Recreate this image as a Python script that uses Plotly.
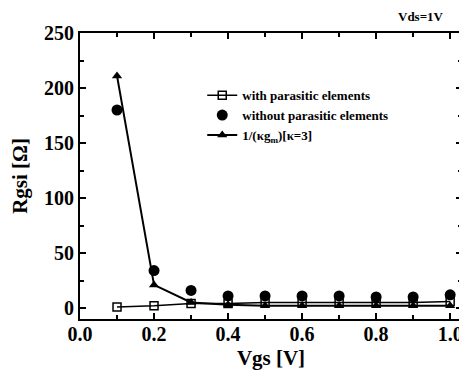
import plotly.graph_objects as go

vgs = [0.1, 0.2, 0.3, 0.4, 0.5, 0.6, 0.7, 0.8, 0.9, 1.0]
with_parasitic = [1, 2, 4, 4, 5, 5, 5, 5, 5, 6]
without_parasitic = [180, 34, 16, 11, 11, 11, 11, 10, 10, 12]
inv_kgm = [211, 21, 5, 3, 2, 2, 2, 2, 2, 2]

x_tick_vals = [0.0, 0.2, 0.4, 0.6, 0.8, 1.0]
x_tick_text = ["0.0", "0.2", "0.4", "0.6", "0.8", "1.0"]
y_tick_vals = [0, 50, 100, 150, 200, 250]
y_tick_text = ["0", "50", "100", "150", "200", "250"]

FONT = "Times New Roman, Liberation Serif, serif"

fig = go.Figure()
fig.add_trace(go.Scatter(
    x=vgs, y=with_parasitic, mode="lines+markers",
    name="<b>with parasitic elements</b>",
    line=dict(color="black", width=1.5),
    marker=dict(symbol="square-open", size=8, color="black", line=dict(width=1.5)),
))
fig.add_trace(go.Scatter(
    x=vgs, y=without_parasitic, mode="markers",
    name="<b>without parasitic elements</b>",
    marker=dict(symbol="circle", size=11, color="black"),
))
fig.add_trace(go.Scatter(
    x=vgs, y=inv_kgm, mode="lines+markers",
    name="<b>1/(κg<sub>m</sub>)[κ=3]</b>",
    line=dict(color="black", width=2),
    marker=dict(symbol="triangle-up", size=9, color="black"),
))

axis_common = dict(
    showline=True, linecolor="black", linewidth=2, mirror="ticks",
    ticks="inside", ticklen=6, tickwidth=2, tickcolor="black",
    showgrid=False, zeroline=False,
    tickfont=dict(family=FONT, size=20, color="black"),
)

fig.update_xaxes(
    range=[0, 1.032], tickvals=x_tick_vals,
    ticktext=["<b>%s</b>" % t for t in x_tick_text],
    ticklabelstandoff=-4,
    minor=dict(tickvals=[0.1, 0.3, 0.5, 0.7, 0.9], ticks="inside", ticklen=4, tickwidth=2, tickcolor="black"),
    title=dict(text="<b>Vgs [V]</b>", font=dict(family=FONT, size=21, color="black"), standoff=6),
    **axis_common,
)
fig.update_yaxes(
    range=[-10, 250], tickvals=y_tick_vals,
    ticktext=["<b>%s</b>" % t for t in y_tick_text],
    minor=dict(tickvals=[25, 75, 125, 175, 225], ticks="inside", ticklen=4, tickwidth=2, tickcolor="black"),
    title=dict(text="<b>Rgsi [Ω]</b>", font=dict(family=FONT, size=21, color="black"), standoff=18),
    **axis_common,
)

# page has an 8px body margin; figure is shrunk so the plot sits where the reference has it
fig.update_layout(
    width=459, height=370,
    margin=dict(l=72, r=3, t=25, b=59),
    plot_bgcolor="white", paper_bgcolor="white",
    showlegend=True,
    legend=dict(
        x=0.32, y=0.835, xanchor="left", yanchor="top",
        font=dict(family=FONT, size=13, color="black"),
        bgcolor="rgba(0,0,0,0)", borderwidth=0,
        tracegroupgap=0, itemwidth=30,
    ),
    annotations=[dict(
        text="<b>Vds=1V</b>", xref="paper", yref="paper", x=0.893, y=1.059,
        xanchor="center", yanchor="middle", showarrow=False,
        font=dict(family=FONT, size=13, color="black"),
    )],
)

fig.write_html("out.html")
